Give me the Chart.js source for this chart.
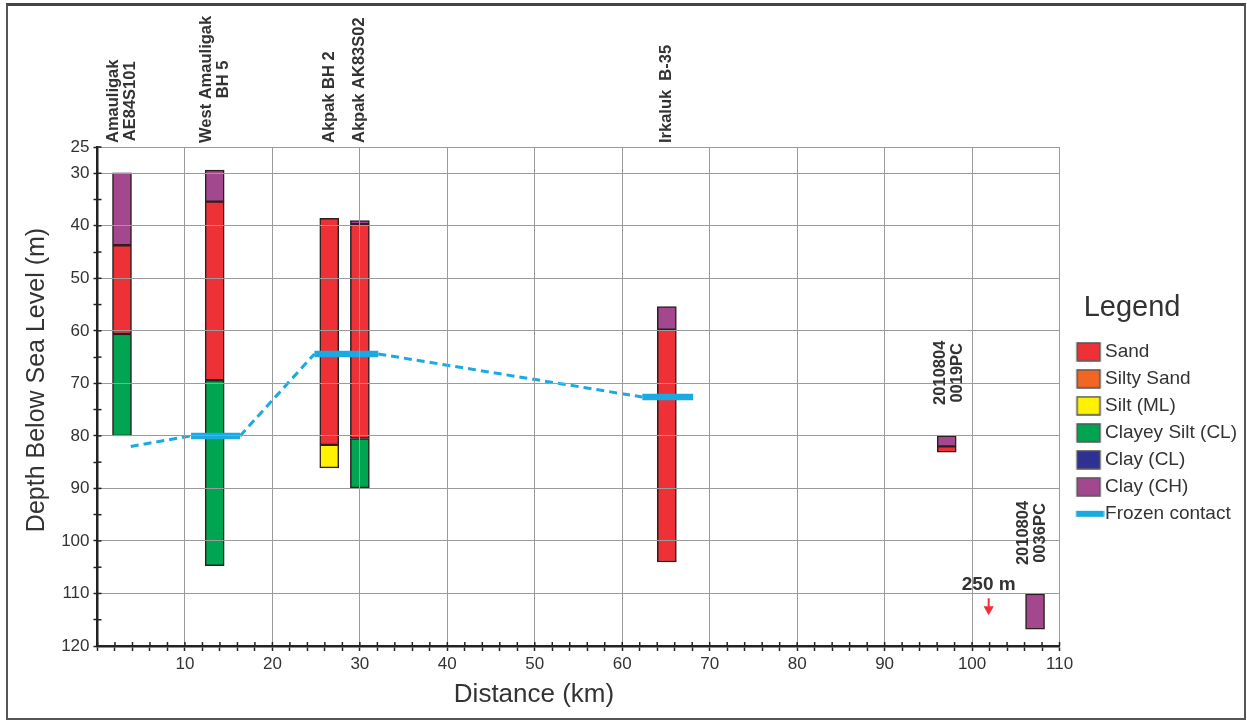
<!DOCTYPE html>
<html><head><meta charset="utf-8">
<script src="https://cdn.jsdelivr.net/npm/chart.js@4.4.1/dist/chart.umd.min.js"></script>
<style>
html,body{margin:0;padding:0;background:#fff;}
#wrap{position:relative;width:1247px;height:721px;}
canvas{display:block;}
#frame{position:absolute;left:6px;top:3px;width:1240px;height:717px;border:2px solid #555;border-top:3px solid #444;box-sizing:border-box;pointer-events:none;}
</style></head><body>
<div id="wrap"><canvas id="c" width="1247" height="721"></canvas><div id="frame"></div></div>
<script>
// ---------------- data ----------------
const xTickLabels = [10, 20, 30, 40, 50, 60, 70, 80, 90, 100, 110];
const yTickLabels = [25, 30, 40, 50, 60, 70, 80, 90, 100, 110, 120];

const sandX = [2.8, 13.4, 26.5, 30.0, 65.1, 97.1];
const sandDepth = [[43.7, 60.6], [35.4, 69.4], [38.6, 81.7], [39.7, 80.5], [59.8, 104.0], [82.0, 83.1]];
const siltySandX = [];
const siltySandDepth = [];
const siltX = [26.5];
const siltDepth = [[81.7, 86.1]];
const clayeySiltX = [2.8, 13.4, 30.0];
const clayeySiltDepth = [[60.6, 80.0], [69.4, 104.7], [80.5, 89.9]];
const clayCLX = [];
const clayCLDepth = [];
const clayCHX = [2.8, 13.4, 30.0, 65.1, 97.1, 107.2];
const clayCHDepth = [[29.9, 43.7], [29.4, 35.4], [39.0, 39.7], [55.4, 59.8], [80.0, 82.0], [110.1, 116.8]];

const frozenX = [3.8, 10.7, 16.3, 24.8, 32.1, 62.3, 68.1];
const frozenDepth = [82.0, 80.0, 80.0, 64.4, 64.4, 72.6, 72.6];

const boreholeNames = [['Amauligak', 'AE84S101'], ['West Amauligak', 'BH 5'], ['Akpak BH 2'], ['Akpak AK83S02'], ['Irkaluk  B-35']];
const boreholeX = [2.8, 13.4, 26.5, 30.0, 65.1];
const coreNames = [['2010804', '0019PC'], ['2010804', '0036PC']];
const coreX = [97.3, 106.9];
const coreLabelDepth = [74.1, 104.6];
const noteText = '250 m';
const noteX = 101.9;
const noteDepth = 108.4;
const arrowX = [101.9, 101.9];
const arrowDepth = [110.9, 113.0];

// ---------------- styles ----------------
const F = "'Liberation Sans', Arial, sans-serif";
const TXT = '#333333';
const GRID = '#9b9b9b';
const AXIS = '#222222';
const COL = {
  sand: '#EE3137', siltySand: '#F26522', silt: '#FFF200',
  clayeySilt: '#00A551', clayCL: '#2E3192', clayCH: '#A3488F',
  frozen: '#1BA9E1', arrow: '#EE3137', edge: '#2b1f1f'
};

const pair = (xs, ds) => xs.map((x, i) => ({ x: x, y: ds[i] }));
const barBase = { type: 'bar', grouped: false, barThickness: 19, borderWidth: 1.5, borderColor: COL.edge, borderSkipped: false };

function iconRect(color) {
  const c = document.createElement('canvas'); c.width = 46; c.height = 20;
  const g = c.getContext('2d');
  g.fillStyle = color; g.fillRect(18.5, 1, 23, 18);
  g.strokeStyle = '#555'; g.lineWidth = 1.5; g.strokeRect(18.5, 1, 23, 18);
  return c;
}
function iconLine(color) {
  const c = document.createElement('canvas'); c.width = 46; c.height = 20;
  const g = c.getContext('2d');
  g.fillStyle = color; g.fillRect(17.5, 7, 28, 6);
  return c;
}

const datasets = [
  { ...barBase, label: 'Sand', data: pair(sandX, sandDepth), backgroundColor: COL.sand },
  { ...barBase, label: 'Silty Sand', data: pair(siltySandX, siltySandDepth), backgroundColor: COL.siltySand },
  { ...barBase, label: 'Silt (ML)', data: pair(siltX, siltDepth), backgroundColor: COL.silt },
  { ...barBase, label: 'Clayey Silt (CL)', data: pair(clayeySiltX, clayeySiltDepth), backgroundColor: COL.clayeySilt },
  { ...barBase, label: 'Clay (CL)', data: pair(clayCLX, clayCLDepth), backgroundColor: COL.clayCL },
  { ...barBase, label: 'Clay (CH)', data: pair(clayCHX, clayCHDepth), backgroundColor: COL.clayCH },
  { type: 'line', label: 'Frozen contact', data: pair(frozenX, frozenDepth), borderColor: COL.frozen,
    backgroundColor: COL.frozen, borderWidth: 3, pointRadius: 0, borderCapStyle: 'butt', order: -1,
    segment: {
      borderWidth: c => (c.p0DataIndex % 2 === 1 ? 6.5 : 3),
      borderDash: c => (c.p0DataIndex % 2 === 1 ? [] : [8, 5])
    } },
  { type: 'line', label: noteText, inLegend: false, data: pair(arrowX, arrowDepth), borderColor: COL.arrow,
    borderWidth: 2, pointRadius: [0, 6], pointStyle: 'triangle', rotation: 180,
    pointBackgroundColor: COL.arrow, pointBorderWidth: 0, order: -2 }
];

const annotate = {
  id: 'annotate',
  afterDraw(chart) {
    const { ctx, chartArea, scales: { x, y } } = chart;
    ctx.save();
    // inner halves of axis ticks
    ctx.strokeStyle = AXIS; ctx.lineWidth = 1.5;
    x.ticks.forEach((t, i) => {
      const px = x.getPixelForTick(i);
      ctx.beginPath(); ctx.moveTo(px, chartArea.bottom); ctx.lineTo(px, chartArea.bottom - 4); ctx.stroke();
    });
    y.ticks.forEach((t, i) => {
      const py = y.getPixelForTick(i);
      ctx.beginPath(); ctx.moveTo(chartArea.left, py); ctx.lineTo(chartArea.left + 4, py); ctx.stroke();
    });
    // rotated label blocks
    function block(lines, px, bottomY) {
      ctx.save();
      ctx.font = 'bold 16.5px ' + F;
      ctx.fillStyle = TXT;
      const L = Math.max(...lines.map(s => ctx.measureText(s).width));
      ctx.translate(px, bottomY);
      ctx.rotate(-Math.PI / 2);
      ctx.textAlign = 'center'; ctx.textBaseline = 'middle';
      const n = lines.length;
      lines.forEach((s, i) => ctx.fillText(s, L / 2, (i - (n - 1) / 2) * 17));
      ctx.restore();
    }
    boreholeNames.forEach((lines, i) => block(lines, x.getPixelForValue(boreholeX[i]), chartArea.top - 4));
    coreNames.forEach((lines, i) => block(lines, x.getPixelForValue(coreX[i]), y.getPixelForValue(coreLabelDepth[i])));
    // note text
    ctx.font = 'bold 19px ' + F; ctx.fillStyle = TXT; ctx.textAlign = 'center'; ctx.textBaseline = 'middle';
    ctx.fillText(noteText, x.getPixelForValue(noteX), y.getPixelForValue(noteDepth));
    // axis titles
    ctx.font = '26px ' + F; ctx.fillStyle = TXT;
    ctx.fillText('Distance (km)', 534, 695);
    ctx.save();
    ctx.translate(37, 380); ctx.rotate(-Math.PI / 2);
    ctx.font = '25px ' + F;
    ctx.fillText('Depth Below Sea Level (m)', 0, 0);
    ctx.restore();
    ctx.restore();
  }
};

new Chart(document.getElementById('c'), {
  type: 'bar',
  data: { datasets: datasets },
  plugins: [annotate],
  options: {
    responsive: false,
    animation: false,
    events: [],
    layout: { padding: { top: 147, left: 0, right: 0, bottom: 0 } },
    plugins: {
      tooltip: { enabled: false },
      legend: {
        position: 'right', align: 'start',
        title: { display: true, text: '   Legend', position: 'start', color: TXT,
          font: { size: 29, family: F }, padding: { top: 146.5, bottom: 6 } },
        labels: {
          usePointStyle: true, pointStyleWidth: 28, boxHeight: 19, padding: 8,
          color: TXT, font: { size: 19, family: F },
          generateLabels(chart) {
            return chart.data.datasets.map((d, i) => ({
              text: d.label,
              fillStyle: d.backgroundColor,
              strokeStyle: d.backgroundColor,
              lineWidth: 0,
              fontColor: TXT,
              pointStyle: d.type === 'line' ? iconLine(d.borderColor) : iconRect(d.backgroundColor),
              hidden: !chart.isDatasetVisible(i),
              datasetIndex: i,
              inLegend: d.inLegend !== false
            })).filter(it => it.inLegend);
          }
        }
      }
    },
    scales: {
      x: {
        type: 'linear', min: 0, max: 110, offset: false,
        afterFit(s) { s.height = 75; },
        grid: { z: 1, offset: false, lineWidth: 1, tickLength: 5, tickWidth: 1.5, tickColor: AXIS,
          color: c => (c.tick && xTickLabels.includes(c.tick.value) ? GRID : 'rgba(0,0,0,0)') },
        border: { z: 1, color: AXIS, width: 2.5 },
        ticks: { stepSize: 2, autoSkip: false, maxRotation: 0, color: TXT, padding: 3,
          font: { size: 17, family: F },
          callback: v => (xTickLabels.includes(v) ? String(v) : '') }
      },
      y: {
        type: 'linear', reverse: true, min: 25, max: 120,
        afterFit(s) { s.width = 97.5; },
        grid: { z: 1, lineWidth: 1, tickLength: 4, tickWidth: 1.5, tickColor: AXIS,
          color: c => (c.tick && yTickLabels.includes(c.tick.value) && c.tick.value !== 120 ? GRID : 'rgba(0,0,0,0)') },
        border: { z: 1, color: AXIS, width: 2.5 },
        ticks: { stepSize: 5, autoSkip: false, color: TXT, padding: 4,
          font: { size: 17, family: F },
          callback: v => (yTickLabels.includes(v) ? String(v) : '') }
      }
    }
  }
});
</script>
</body></html>
